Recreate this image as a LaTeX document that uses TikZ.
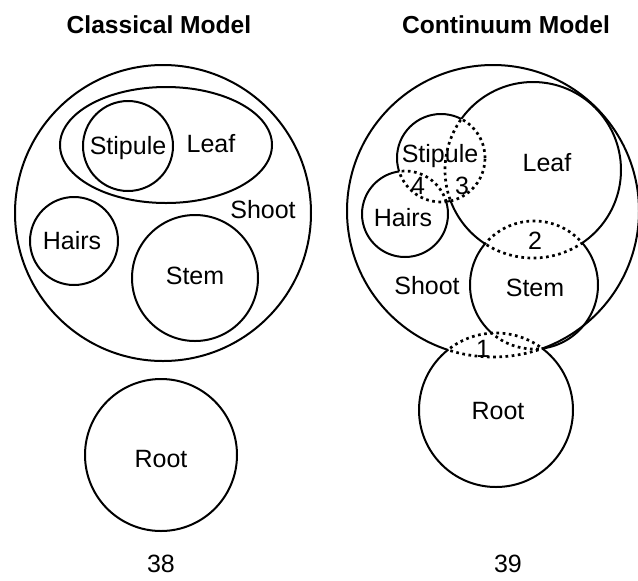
\documentclass[tikz,border=0pt]{standalone}
\usepackage{fontspec}
\setmainfont{Liberation Sans}
\usetikzlibrary{positioning}
\tikzset{ring/.style = {line width=1pt}}
\tikzset{dots/.style = {line width=1.35pt, dash pattern=on 1.35pt off 1.75pt}}
\tikzset{lbl/.style = {font=\fontsize{12.5}{14}\selectfont, inner sep=0,
                       text height=9pt, text depth=0pt}}
\tikzset{ttl/.style = {lbl, font=\bfseries\fontsize{12.3}{14}\selectfont}}
\newcommand{\clipout}[3]{\clip (-20,20) -- (-20,-600) -- (660,-600) -- (660,20) -- cycle
  (#1+#3,#2) arc [start angle=0, end angle=-360, radius=#3];}
\newcommand{\clipin}[3]{\clip (#1,#2) circle [radius=#3];}

\begin{document}
\begin{tikzpicture}[x=0.5pt, y=0.5pt]
      \useasboundingbox (0,0) rectangle (638,-580);

      % classical model
      \node [ttl] (title38) at (159,-24) {Classical Model};
      \draw [ring] (163,-213) circle [radius=148];
      \draw [ring] (166,-145) ellipse [x radius=106, y radius=58];
      \draw [ring] (128,-146) circle [radius=45];
      \draw [ring] (74,-241) circle [radius=44];
      \draw [ring] (195,-278) circle [radius=63];
      \draw [ring] (161,-455) circle [radius=76];
      \node [lbl] (stipule38) at (128,-145) {Stipule};
      \node [lbl] (leaf38) at (211,-143) {Leaf};
      \node [lbl] (shoot38) at (263,-209) {Shoot};
      \node [lbl] (hairs38) at (72,-240) {Hairs};
      \node [lbl] (stem38) at (195,-275) {Stem};
      \node [lbl] (root38) at (161,-458) {Root};
      \node [lbl] (num38) at (161,-563) {38};

      % continuum model: solid where a part stands alone
      \begin{scope}
        \clipout{496}{-410}{77}
        \draw [ring] (493,-211) circle [radius=146];
      \end{scope}
      \begin{scope}
        \clipout{441}{-158}{44} \clipout{534}{-285}{64}
        \draw [ring] (533,-170) circle [radius=88];
      \end{scope}
      \begin{scope}
        \clipout{533}{-170}{88} \clipout{405}{-214}{43}
        \draw [ring] (441,-158) circle [radius=44];
      \end{scope}
      \begin{scope}
        \clipout{441}{-158}{44}
        \draw [ring] (405,-214) circle [radius=43];
      \end{scope}
      \begin{scope}
        \clipout{533}{-170}{88} \clipout{496}{-410}{77}
        \draw [ring] (534,-285) circle [radius=64];
      \end{scope}
      \begin{scope}
        \clipout{493}{-211}{146}
        \draw [ring] (496,-410) circle [radius=77];
      \end{scope}

      % continuum model: dotted where two parts overlap
      \foreach \x/\y/\r/\u/\v/\s in {493/-211/146/496/-410/77,
                                     533/-170/88/441/-158/44,
                                     533/-170/88/534/-285/64,
                                     441/-158/44/533/-170/88,
                                     441/-158/44/405/-214/43,
                                     405/-214/43/441/-158/44,
                                     534/-285/64/533/-170/88,
                                     534/-285/64/496/-410/77,
                                     496/-410/77/493/-211/146} {
        \begin{scope}
          \clipin{\u}{\v}{\s}
          \draw [dots] (\x,\y) circle [radius=\r];
        \end{scope}
      }

      \node [ttl] (title39) at (506,-24) {Continuum Model};
      \node [lbl] (leaf39) at (547,-162) {Leaf};
      \node [lbl] (stipule39) at (440,-153) {Stipule};
      \node [lbl] (three) at (462,-185) {3};
      \node [lbl] (four) at (418,-185) {4};
      \node [lbl] (hairs39) at (403,-217) {Hairs};
      \node [lbl] (two) at (535,-240) {2};
      \node [lbl] (shoot39) at (427,-285) {Shoot};
      \node [lbl] (stem39) at (535,-287) {Stem};
      \node [lbl] (one) at (483,-348) {1};
      \node [lbl] (root39) at (498,-410) {Root};
      \node [lbl] (num39) at (508,-563) {39};
\end{tikzpicture}
\end{document}
